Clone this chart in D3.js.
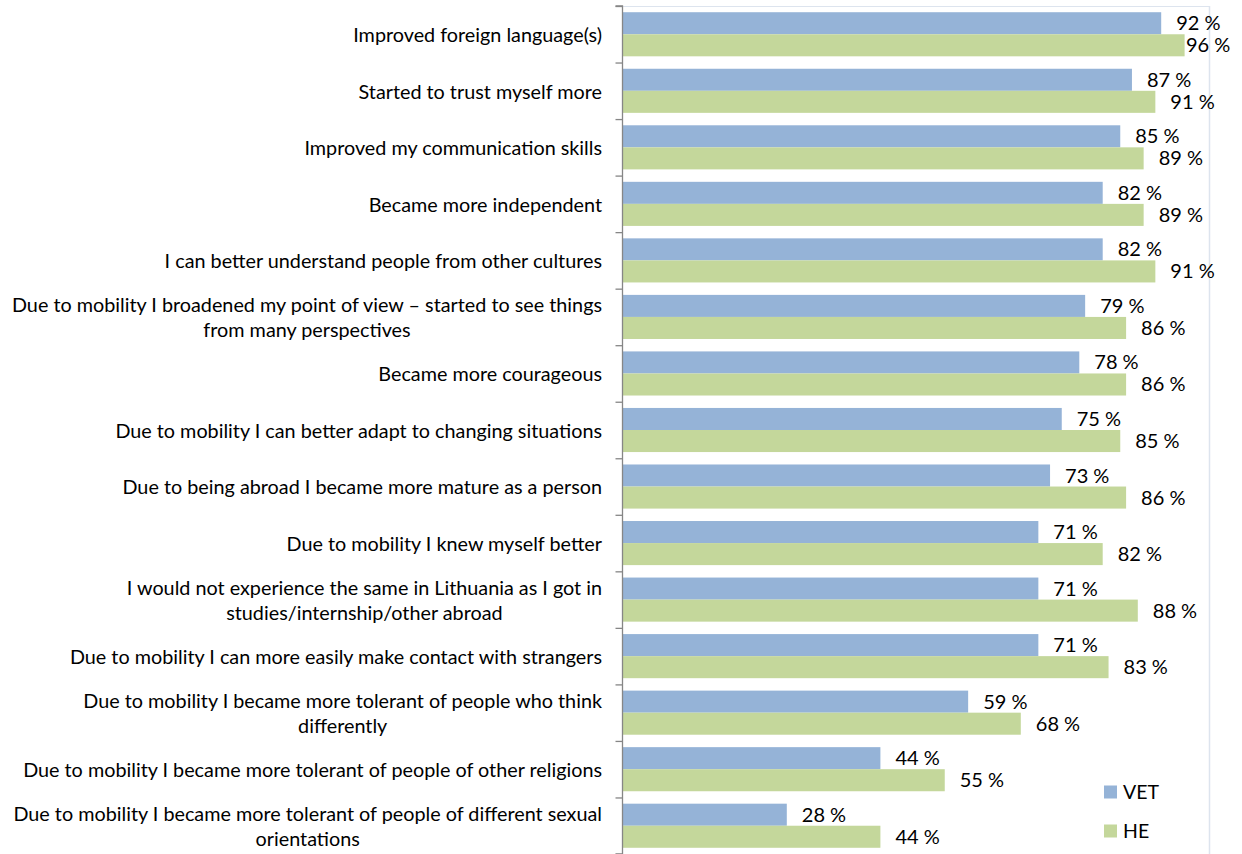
<!DOCTYPE html>
<html><head><meta charset="utf-8">
<script src="https://cdn.jsdelivr.net/npm/d3@7"></script>
<style>html,body{margin:0;padding:0;background:#fff;}</style>
</head><body>
<svg id="chart" width="1242" height="854"></svg>
<script>
const categories = [
  ["Improved foreign language(s)"],
  ["Started to trust myself more"],
  ["Improved my communication skills"],
  ["Became more independent"],
  ["I can better understand people from other cultures"],
  ["Due to mobility I broadened my point of view – started to see things", "from many perspectives"],
  ["Became more courageous"],
  ["Due to mobility I can better adapt to changing situations"],
  ["Due to being abroad I became more mature as a person"],
  ["Due to mobility I knew myself better"],
  ["I would not experience the same in Lithuania as I got in", "studies/internship/other abroad"],
  ["Due to mobility I can more easily make contact with strangers"],
  ["Due to mobility I became more tolerant of people who think", "differently"],
  ["Due to mobility I became more tolerant of people of other religions"],
  ["Due to mobility I became more tolerant of people of different sexual", "orientations"]
];
const seriesNames = ["VET", "HE"];
const vetValues = [92, 87, 85, 82, 82, 79, 78, 75, 73, 71, 71, 71, 59, 44, 28];
const heValues  = [96, 91, 89, 89, 91, 86, 86, 85, 86, 82, 88, 83, 68, 55, 44];
const colors = ["#95B3D7", "#C4D79B"];

const svg = d3.select("#chart");
const font = "Lato, 'Open Sans', sans-serif";
const x0 = 623, x1 = 1208, yTop = 6, yBot = 854;

const x = d3.scaleLinear().domain([0, 100]).range([x0, x1]);
const idx = d3.range(categories.length);
const y = d3.scaleBand().domain(idx).range([yTop, yBot]).paddingInner(0.22).paddingOuter(0.11);
const ySub = d3.scaleBand().domain([0, 1]).range([0, y.bandwidth()]);

// plot area border (faint)
svg.append("line").attr("x1", 622).attr("x2", 1209.5).attr("y1", 6.5).attr("y2", 6.5)
  .attr("stroke", "#dde4ee").attr("stroke-width", 1);
svg.append("line").attr("x1", 1209.5).attr("x2", 1209.5).attr("y1", 6).attr("y2", 854)
  .attr("stroke", "#dde4ee").attr("stroke-width", 1.5);

const data = [vetValues, heValues];
const g = svg.append("g");
idx.forEach(i => {
  data.forEach((vals, s) => {
    const v = vals[i];
    const by = y(i) + ySub(s);
    g.append("rect").attr("x", x(0)).attr("y", by)
      .attr("width", x(v) - x(0)).attr("height", ySub.bandwidth())
      .attr("fill", colors[s]);
    const tx = x(v) + 15;
    g.append("text").attr("x", Math.min(tx, 1186)).attr("y", by + ySub.bandwidth() / 2)
      .attr("dy", "0.35em").attr("font-family", font).attr("font-size", 20)
      .attr("fill", "#000").text(v + " %");
  });
});

// axis
const yAxisScale = d3.scaleLinear().domain([0, categories.length]).range([yTop, yBot]);
const axis = d3.axisLeft(yAxisScale).tickValues(d3.range(categories.length + 1))
  .tickSize(7).tickFormat("");
const ax = svg.append("g").attr("transform", "translate(622.5,0)").call(axis);
ax.selectAll("path,line").attr("stroke", "#868686").attr("stroke-width", 1.3);
ax.select("path").attr("d", `M-7,${yTop}H0V${yBot}H-7`);

// category labels
idx.forEach(i => {
  const lines = categories[i];
  const cy = y(i) + y.bandwidth() / 2 + 1;
  const lh = 25;
  const tg = svg.append("g");
  const texts = lines.map((ln, k) => tg.append("text")
    .attr("y", cy + (k - (lines.length - 1) / 2) * lh)
    .attr("dy", "0.35em").attr("font-family", font).attr("font-size", 19.8)
    .attr("fill", "#000").text(ln));
  const maxW = d3.max(texts, t => t.node().getComputedTextLength());
  texts.forEach(t => t.attr("text-anchor", "middle").attr("x", 602 - maxW / 2));
});

// legend
seriesNames.forEach((name, s) => {
  const ly = [792, 831][s];
  svg.append("rect").attr("x", 1104).attr("y", ly - 6.5).attr("width", 13).attr("height", 13).attr("fill", colors[s]);
  svg.append("text").attr("x", 1123).attr("y", ly).attr("dy", "0.35em")
    .attr("font-family", font).attr("font-size", 19.5).attr("fill", "#000").text(name);
});
</script>
</body></html>
